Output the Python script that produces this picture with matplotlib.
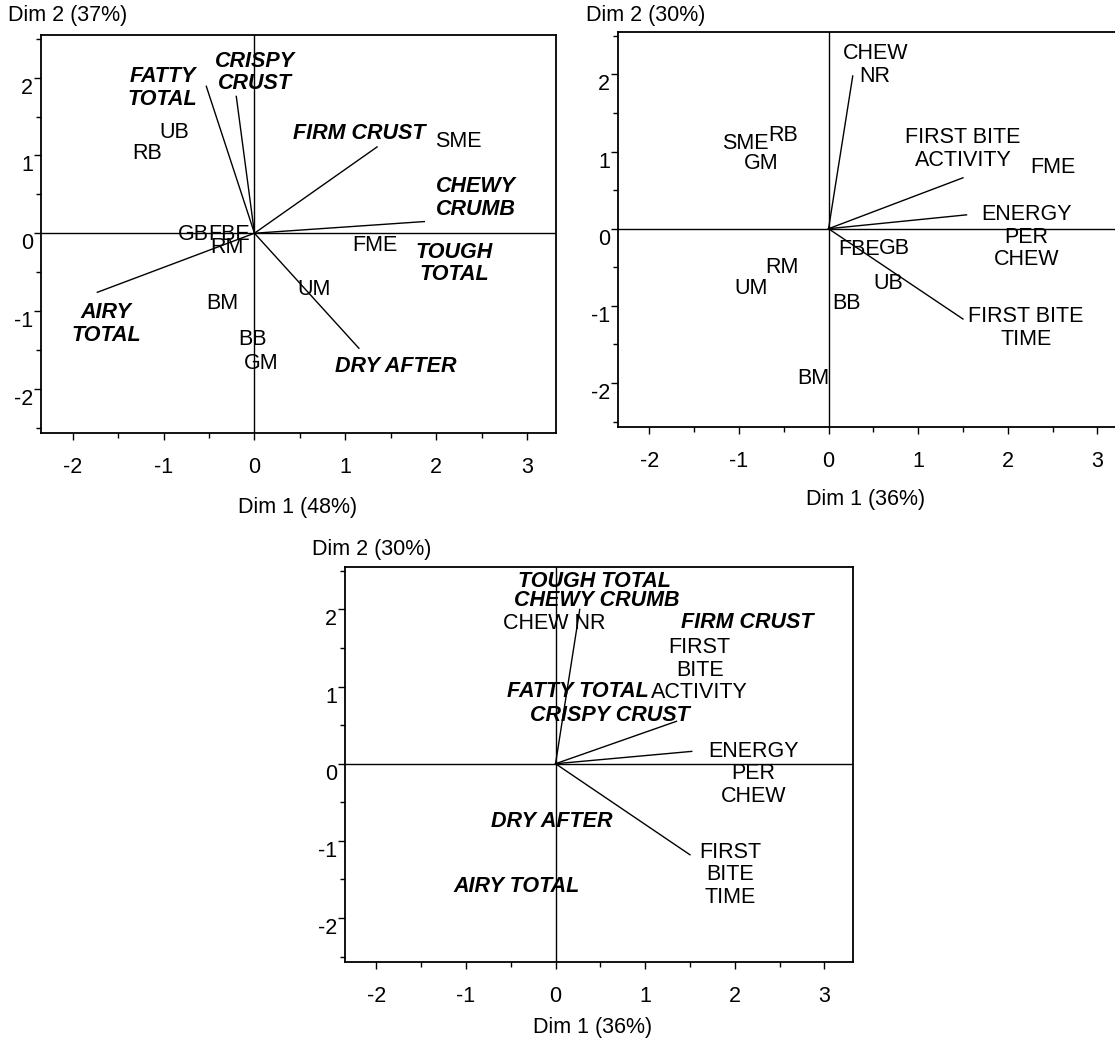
import matplotlib

matplotlib.use("Agg")
import matplotlib.pyplot as plt
from matplotlib.ticker import MultipleLocator

plt.rcParams["font.family"] = ["Liberation Sans", "DejaVu Sans"]
plt.rcParams["axes.unicode_minus"] = False

W, H = 1115, 1044
FS = 15.5

# --- panel A: sensory attributes + samples (Dim 1 48%, Dim 2 37%) ---
A_SAMPLES = ["UB", "RB", "SME", "GB", "FBE", "RM", "FME", "UM", "BM", "BB", "GM"]
A_SAMPLE_X = [-0.88, -1.18, 2.24, -0.67, -0.28, -0.30, 1.33, 0.66, -0.35, -0.02, 0.07]
A_SAMPLE_Y = [1.29, 1.03, 1.18, -0.02, -0.02, -0.19, -0.16, -0.73, -0.90, -1.37, -1.67]
A_ATTRS = ["CRISPY\nCRUST", "FATTY\nTOTAL", "FIRM CRUST", "CHEWY\nCRUMB",
           "TOUGH\nTOTAL", "AIRY\nTOTAL", "DRY AFTER"]
A_ATTR_X = [0.01, -1.01, 1.15, 2.44, 2.20, -1.63, 1.56]
A_ATTR_Y = [2.07, 1.87, 1.28, 0.45, -0.39, -1.17, -1.71]
A_VEC_X = [-0.20, -0.53, 1.35, 1.87, -1.73, 1.15]
A_VEC_Y = [1.76, 1.89, 1.11, 0.15, -0.76, -1.48]

# --- panel B: instrumental parameters + samples (Dim 1 36%, Dim 2 30%) ---
B_SAMPLES = ["SME", "RB", "GM", "FME", "FBE", "GB", "RM", "UM", "UB", "BB", "BM"]
B_SAMPLE_X = [-0.93, -0.51, -0.75, 2.50, 0.34, 0.73, -0.52, -0.87, 0.67, 0.20, -0.17]
B_SAMPLE_Y = [1.11, 1.21, 0.84, 0.79, -0.27, -0.25, -0.50, -0.78, -0.71, -0.97, -1.94]
B_PARAMS = ["CHEW\nNR", "FIRST BITE\nACTIVITY", "ENERGY\nPER\nCHEW", "FIRST BITE\nTIME"]
B_PARAM_X = [0.52, 1.50, 2.21, 2.20]
B_PARAM_Y = [2.12, 1.03, -0.11, -1.29]
B_VEC_X = [0.27, 1.50, 1.54, 1.50]
B_VEC_Y = [1.98, 0.66, 0.18, -1.17]

# --- panel C: instrumental parameters with sensory attributes projected ---
C_PARAMS = ["CHEW NR", "FIRST\nBITE\nACTIVITY", "ENERGY\nPER\nCHEW", "FIRST\nBITE\nTIME"]
C_PARAM_X = [-0.01, 1.61, 2.21, 1.95]
C_PARAM_Y = [1.82, 1.21, -0.13, -1.44]
C_ATTRS = ["TOUGH TOTAL", "CHEWY CRUMB", "FIRM CRUST", "FATTY TOTAL",
           "CRISPY CRUST", "DRY AFTER", "AIRY TOTAL"]
C_ATTR_X = [0.43, 0.46, 2.14, 0.25, 0.61, -0.04, -0.43]
C_ATTR_Y = [2.36, 2.11, 1.83, 0.94, 0.62, -0.75, -1.59]
C_VEC_X = [0.27, 1.35, 1.52, 1.50]
C_VEC_Y = [2.00, 0.55, 0.16, -1.18]

DIM1_LABELS = ["Dim 1 (48%)", "Dim 1 (36%)", "Dim 1 (36%)"]
DIM2_LABELS = ["Dim 2 (37%)", "Dim 2 (30%)", "Dim 2 (30%)"]

XLIM = (-2.35, 3.32)
YLIM = (-2.57, 2.55)


def box(left, top, right, bottom):
    return [left / W, 1 - bottom / H, (right - left) / W, (bottom - top) / H]


def style_axes(ax):
    ax.set_xlim(*XLIM)
    ax.set_ylim(*YLIM)
    ax.set_xticks([-2, -1, 0, 1, 2, 3])
    ax.set_yticks([-2, -1, 0, 1, 2])
    ax.xaxis.set_minor_locator(MultipleLocator(0.5))
    ax.yaxis.set_minor_locator(MultipleLocator(0.5))
    ax.tick_params(which="major", direction="out", length=5, width=1,
                   labelsize=FS, color="black")
    ax.tick_params(which="minor", direction="out", length=3.5, width=1)
    ax.tick_params(axis="x", pad=12)
    ax.tick_params(axis="y", pad=0.5)
    for lab in ax.get_yticklabels():
        lab.set_va("top")
    for spine in ax.spines.values():
        spine.set_linewidth(1.3)
        spine.set_color("black")
    ax.axhline(0, color="black", lw=1.0, zorder=1)
    ax.axvline(0, color="black", lw=1.0, zorder=1)


def vectors(ax, xs, ys):
    for x, y in zip(xs, ys):
        ax.plot([0, x], [0, y], color="black", lw=1.0, zorder=2)


def labels(ax, names, xs, ys, bold=False):
    for name, x, y in zip(names, xs, ys):
        ax.text(x, y, name, ha="center", va="center", fontsize=FS,
                fontweight="bold" if bold else "normal",
                fontstyle="italic" if bold else "normal",
                linespacing=1.1, zorder=3)


fig = plt.figure(figsize=(W / 100, H / 100), dpi=100)

ax1 = fig.add_axes(box(41, 35, 556, 433))
style_axes(ax1)
vectors(ax1, A_VEC_X, A_VEC_Y)
labels(ax1, A_SAMPLES, A_SAMPLE_X, A_SAMPLE_Y)
labels(ax1, A_ATTRS, A_ATTR_X, A_ATTR_Y, bold=True)

ax2 = fig.add_axes(box(618, 32, 1126, 427))
style_axes(ax2)
vectors(ax2, B_VEC_X, B_VEC_Y)
labels(ax2, B_SAMPLES, B_SAMPLE_X, B_SAMPLE_Y)
labels(ax2, B_PARAMS, B_PARAM_X, B_PARAM_Y)

ax3 = fig.add_axes(box(345, 567, 853, 962))
style_axes(ax3)
vectors(ax3, C_VEC_X, C_VEC_Y)
labels(ax3, C_PARAMS, C_PARAM_X, C_PARAM_Y)
labels(ax3, C_ATTRS, C_ATTR_X, C_ATTR_Y, bold=True)

# axis titles placed like the original: Dim 2 above the top-left corner
dim2_pos = [(8, 16), (586, 15), (312, 550)]
dim1_pos = [(298, 508), (866, 500), (593, 1028)]
for text, (px, py) in zip(DIM2_LABELS, dim2_pos):
    fig.text(px / W, 1 - py / H, text, ha="left", va="center", fontsize=FS)
for text, (px, py) in zip(DIM1_LABELS, dim1_pos):
    fig.text(px / W, 1 - py / H, text, ha="center", va="center", fontsize=FS)

fig.savefig("out.png", dpi=100)
